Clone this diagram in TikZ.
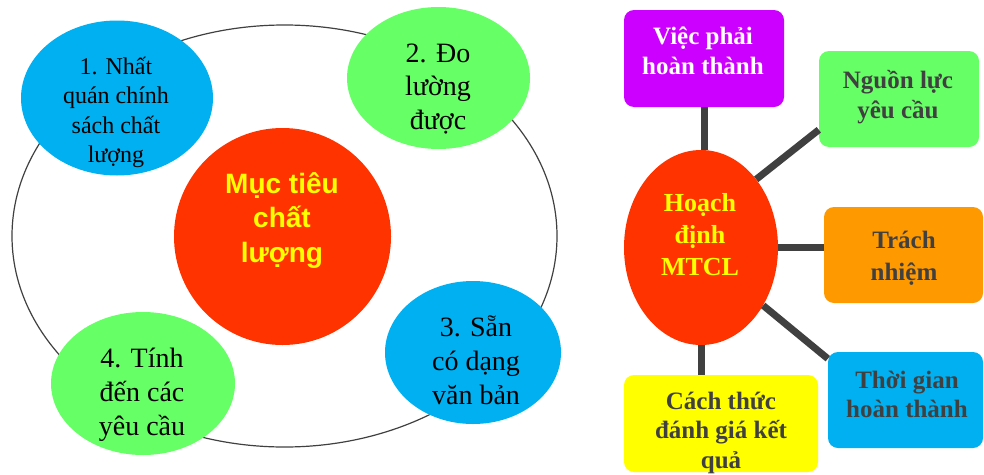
\documentclass[tikz,border=0pt]{standalone}
\usepackage{fontspec}
\setmainfont{Liberation Serif}
\newfontfamily\sansb{Liberation Sans}
\usetikzlibrary{shapes.geometric}
\definecolor{cblue}{HTML}{00B0F0}
\definecolor{cgreen}{HTML}{66FF66}
\definecolor{cred}{HTML}{FF3300}
\definecolor{cpurple}{HTML}{CC00FF}
\definecolor{corange}{HTML}{FF9900}
\definecolor{cyellow}{HTML}{FFFF00}
\definecolor{cdark}{HTML}{404040}
\newcommand\ml[1]{\begin{tabular}[t]{@{}c@{}}#1\end{tabular}}
\begin{document}
\begin{tikzpicture}[x=1pt,y=-1pt,
  blob/.style={ellipse,inner sep=0pt,draw=none},
  box/.style={rectangle,rounded corners=10pt,inner sep=0pt,draw=none},
  txt/.style={anchor=base,inner sep=0pt},
  link/.style={draw=cdark,line width=7pt},
  lefttxt/.style={txt,font=\fontsize{28}{34}\selectfont},
  righttxt/.style={txt,text=cdark,font=\fontsize{25}{30}\selectfont\bfseries}]
\useasboundingbox (0,0) rectangle (984,474);

% ---------- left diagram ----------
\node[ellipse,draw=cdark,line width=1.2pt,minimum width=545pt,minimum height=422pt,inner sep=0pt] (ring) at (284.5,236) {};
\node[blob,fill=cred,minimum width=217pt,minimum height=217pt] (muc) at (282.5,236.5) {};
\node[blob,fill=cblue,minimum width=192pt,minimum height=155pt] (e1) at (117,98) {};
\node[blob,fill=cgreen,minimum width=183pt,minimum height=142pt] (e2) at (438.5,78) {};
\node[blob,fill=cblue,minimum width=176pt,minimum height=143pt] (e3) at (473,352.5) {};
\node[blob,fill=cgreen,minimum width=184pt,minimum height=143pt] (e4) at (143,383.5) {};

\node[txt,text=cyellow,font=\fontsize{28}{34.5}\selectfont\sansb\bfseries] (tmuc) at (282,193) {\ml{Mục tiêu\\chất\\lượng}};
\node[txt,font=\fontsize{24}{29.5}\selectfont] (t1) at (116,74) {\ml{1. Nhất\\quán chính\\sách chất\\lượng}};
\node[lefttxt,font=\fontsize{28}{33.5}\selectfont] (t2) at (438,62) {\ml{2. Đo\\lường\\được}};
\node[lefttxt] (t3) at (476,336) {\ml{3. Sẵn\\có dạng\\văn bản}};
\node[lefttxt] (t4) at (142,367) {\ml{4. Tính\\đến các\\yêu cầu}};

% ---------- right diagram ----------
\node[box,fill=cpurple,minimum width=160pt,minimum height=97pt] (viec) at (704,58.5) {};
\node[box,fill=cgreen,minimum width=160pt,minimum height=96pt] (nguon) at (899,99) {};
\node[box,fill=corange,minimum width=159pt,minimum height=96pt] (trach) at (903.5,255) {};
\node[box,fill=cblue,minimum width=155pt,minimum height=96pt] (tg) at (905.5,400) {};
\node[box,fill=cyellow,minimum width=194pt,minimum height=97pt] (cach) at (721,423.5) {};
\node[blob,fill=cred,minimum width=154pt,minimum height=195pt] (hd) at (701,247.5) {};

\draw[link] (viec.south) -- (hd.north -| viec.south);
\draw[link] (hd.51) -- (nguon.201);
\draw[link] (hd.east) -- (trach.west |- hd.east);
\draw[link] (hd.-43) -- (tg.152);
\draw[link] (hd.south) -- (cach.north -| hd.south);

\node[righttxt,text=white] (tviec) at (703,44) {\ml{Việc phải\\hoàn thành}};
\node[righttxt] (tnguon) at (898,88) {\ml{Nguồn lực\\yêu cầu}};
\node[txt,text=cyellow,font=\fontsize{26}{32}\selectfont\bfseries] (thd) at (700,211) {\ml{Hoạch\\định\\MTCL}};
\node[righttxt,font=\fontsize{25}{32}\selectfont\bfseries] (ttrach) at (904,248) {\ml{Trách\\nhiệm}};
\node[righttxt,font=\fontsize{25}{29}\selectfont\bfseries] (ttg) at (907,388) {\ml{Thời gian\\hoàn thành}};
\node[righttxt,font=\fontsize{25}{29.5}\selectfont\bfseries] (tcach) at (721,409) {\ml{Cách thức\\đánh giá kết\\quả}};
\end{tikzpicture}
\end{document}
